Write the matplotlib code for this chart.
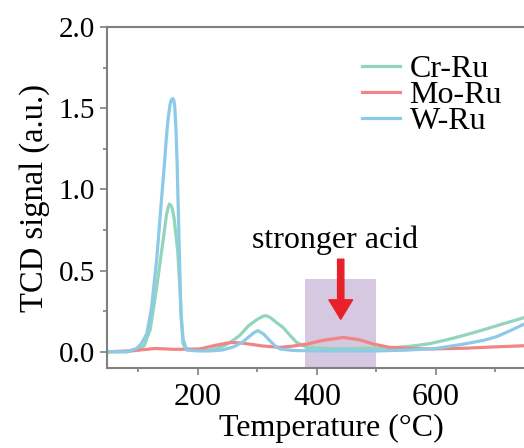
import matplotlib
matplotlib.use("Agg")
import matplotlib.pyplot as plt
from matplotlib.patches import Rectangle
from matplotlib.ticker import MultipleLocator

plt.rcParams["font.family"] = ["Liberation Serif", "DejaVu Serif"]

# readings taken off the reference curves
cr_x = [50, 80, 100, 110, 120, 130, 136, 142, 147, 150, 152, 155, 157, 160, 163, 166,
        169, 172, 175, 180, 190, 200, 220, 240, 254, 270, 285, 300, 310, 315, 322,
        332, 343, 355, 366, 383, 420, 460, 500, 534, 560, 590, 620, 646, 675, 702,
        725, 748, 800]
cr_y = [0.0, 0.0, 0.01, 0.04, 0.14, 0.38, 0.54, 0.70, 0.84, 0.89, 0.91, 0.90, 0.88,
        0.82, 0.72, 0.62, 0.44, 0.22, 0.08, 0.02, 0.01, 0.01, 0.01, 0.03, 0.057,
        0.10, 0.16, 0.20, 0.22, 0.222, 0.21, 0.18, 0.15, 0.10, 0.057, 0.027, 0.02,
        0.02, 0.022, 0.027, 0.035, 0.05, 0.075, 0.10, 0.13, 0.16, 0.185, 0.21, 0.28]

mo_x = [50, 80, 100, 128, 160, 203, 230, 254, 270, 287, 310, 338, 360, 383, 410,
        444, 470, 495, 523, 560, 590, 650, 700, 748, 800]
mo_y = [0.0, 0.005, 0.01, 0.02, 0.015, 0.017, 0.04, 0.057, 0.055, 0.047, 0.035,
        0.027, 0.035, 0.047, 0.07, 0.088, 0.075, 0.047, 0.027, 0.02, 0.017, 0.022,
        0.03, 0.037, 0.045]

w_x = [50, 80, 97, 105, 114, 122, 131, 139, 144, 147, 150, 153, 155, 157.5, 159.5,
       161, 163, 165, 168.6, 171.4, 175, 181, 200, 220, 240, 260, 275, 285, 295,
       301, 310, 321, 330, 338, 360, 400, 450, 500, 550, 600, 646, 680, 702, 725,
       748, 800]
w_y = [0.0, 0.0, 0.02, 0.05, 0.11, 0.27, 0.58, 0.95, 1.17, 1.32, 1.44, 1.52, 1.55,
       1.56, 1.55, 1.51, 1.38, 1.16, 0.64, 0.23, 0.05, 0.01, 0.005, 0.005, 0.01,
       0.03, 0.06, 0.09, 0.12, 0.13, 0.11, 0.068, 0.035, 0.017, 0.008, 0.005,
       0.005, 0.005, 0.01, 0.02, 0.047, 0.07, 0.093, 0.13, 0.17, 0.25]

labels = ["Cr-Ru", "Mo-Ru", "W-Ru"]
colors = ["#93d4bc", "#f08585", "#8ccaea"]

fig = plt.figure(figsize=(5.24, 4.48), dpi=100)
ax = fig.add_axes([0.204, 0.1786, 0.855, 0.761])

# shaded "stronger acid" window
ax.add_patch(Rectangle((380, -0.1), 120, 0.55, facecolor="#d6c8e0", edgecolor="none", zorder=0))

ax.plot(cr_x, cr_y, color=colors[0], lw=2.3, label=labels[0])
ax.plot(mo_x, mo_y, color=colors[1], lw=2.3, label=labels[1])
ax.plot(w_x, w_y, color=colors[2], lw=2.3, label=labels[2])

ax.annotate("", xy=(440, 0.2), xytext=(440, 0.57),
            arrowprops=dict(color="#e8202a", width=4.5, headwidth=17, headlength=14))
ax.text(430, 0.685, "stronger acid", fontsize=23, ha="center", va="center")

ax.set_xlim(47, 800)
ax.set_ylim(-0.1, 2.0)
ax.set_xticks([200, 400, 600])
ax.xaxis.set_minor_locator(MultipleLocator(100))
ax.yaxis.set_minor_locator(MultipleLocator(0.25))
ax.set_yticks([0.0, 0.5, 1.0, 1.5, 2.0])
ax.set_yticklabels(["0.0", "0.5", "1.0", "1.5", "2.0"])

for s in ax.spines.values():
    s.set_color("#808080")
    s.set_linewidth(1.5)
ax.tick_params(which="both", direction="out", color="#808080", width=1.2)
ax.tick_params(axis="x", labelsize=23, pad=6)
ax.tick_params(axis="y", labelsize=21)
ax.tick_params(which="major", length=5)
ax.tick_params(which="minor", length=3)

ax.set_xlabel("Temperature (°C)", fontsize=23, labelpad=1)
ax.set_ylabel("TCD signal (a.u.)", fontsize=23.5, labelpad=6)

fig.legend(loc="upper left", bbox_to_anchor=(0.69, 0.878), frameon=False,
           fontsize=23, handlelength=1.2, handletextpad=0.3, labelspacing=-0.1,
           borderpad=0, borderaxespad=0)

fig.savefig("out.png", dpi=100)
